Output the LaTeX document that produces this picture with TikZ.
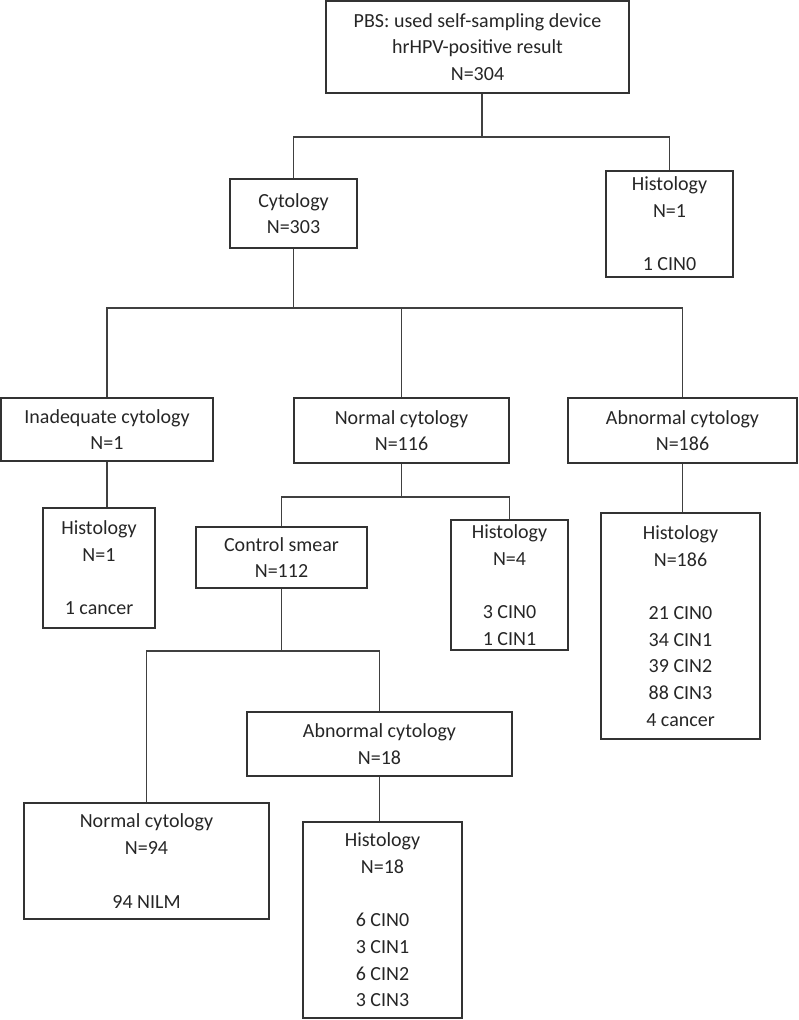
\documentclass[tikz,border=0pt]{standalone}
\usepackage{fontspec}
\setmainfont{Carlito}
\begin{document}
\begin{tikzpicture}[x=1pt, y=-1pt,
        box/.style={draw=black!80, line width=1.6pt, text=black!85, align=center, inner sep=0pt,
            font=\fontsize{20}{26.7}\selectfont},
        link/.style={draw=black!75, line width=1.2pt}]
        \useasboundingbox (0,0) rectangle (798,1020);

        \node[box, minimum width=303, minimum height=92] (PBS) at (477.5, 47) {PBS: used self-sampling device\\hrHPV-positive result\\N=304};
        \node[box, minimum width=127, minimum height=69] (CY) at (293.5, 213.5) {Cytology\\N=303};
        \node[box, minimum width=127, minimum height=106] (HS) at (669.5, 224) {Histology\\N=1\\~\\1 CIN0};
        \node[box, minimum width=212, minimum height=63] (IC) at (107, 429.5) {Inadequate cytology\\N=1};
        \node[box, minimum width=215, minimum height=65] (NC) at (401.5, 430.5) {Normal cytology\\N=116};
        \node[box, minimum width=229, minimum height=65] (AC) at (682.5, 430.5) {Abnormal cytology\\N=186};
        \node[box, minimum width=112, minimum height=120] (HI) at (99, 568) {Histology\\N=1\\~\\1 cancer};
        \node[box, minimum width=171, minimum height=61] (CS) at (281.5, 557.5) {Control smear\\N=112};
        \node[box, minimum width=117, minimum height=130] (HN) at (509.5, 585) {Histology\\N=4\\~\\3 CIN0\\1 CIN1};
        \node[box, minimum width=159, minimum height=226] (HA) at (680.5, 626) {Histology\\N=186\\~\\21 CIN0\\34 CIN1\\39 CIN2\\88 CIN3\\4 cancer};
        \node[box, minimum width=265, minimum height=64] (AS) at (379.5, 744) {Abnormal cytology\\N=18};
        \node[box, minimum width=245, minimum height=116] (NS) at (146.5, 861) {Normal cytology\\N=94\\~\\94 NILM};
        \node[box, minimum width=159, minimum height=196] (HR) at (382.5, 920) {Histology\\N=18\\~\\6 CIN0\\3 CIN1\\6 CIN2\\3 CIN3};

        \coordinate (J1) at (482, 137);
        \coordinate (J2) at (293.5, 308);
        \coordinate (J3) at (401.5, 497);
        \coordinate (J4) at (281.5, 651);

        \draw[link] (PBS.south -| J1) -- (J1);
        \draw[link] (CY.north) |- (J1) -| (HS.north);
        \draw[link] (CY.south) -- (J2);
        \draw[link] (IC.north) |- (J2) -| (AC.north);
        \draw[link] (J2 -| NC.north) -- (NC.north);
        \draw[link] (IC.south) -- (IC.south |- HI.north);
        \draw[link] (NC.south) -- (J3);
        \draw[link] (CS.north) |- (J3) -| (HN.north);
        \draw[link] (AC.south) -- (AC.south |- HA.north);
        \draw[link] (CS.south) -- (J4);
        \draw[link] (NS.north) |- (J4) -| (AS.north);
        \draw[link] (AS.south) -- (AS.south |- HR.north);
    \end{tikzpicture}
\end{document}
